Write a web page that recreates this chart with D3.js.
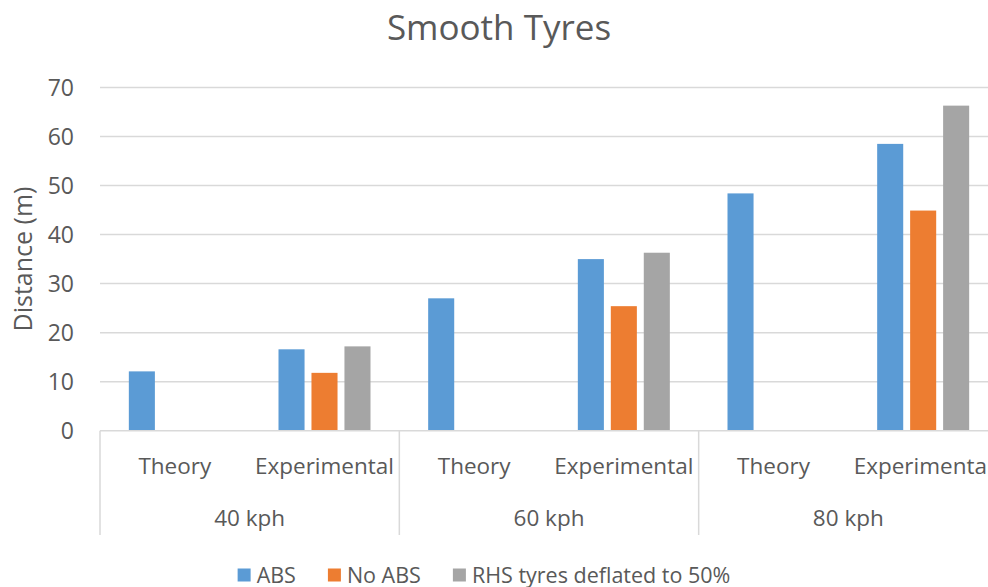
<!DOCTYPE html>
<html>
<head>
<meta charset="utf-8">
<title>Smooth Tyres</title>
<script src="https://d3js.org/d3.v7.min.js"></script>
<style>
  body { margin: 0; background: #fff; }
  text { font-family: "Open Sans", "Noto Sans", sans-serif; fill: #595959; }
</style>
</head>
<body>
<div id="chart"></div>
<script>
// data
var groups = ["40 kph", "60 kph", "80 kph"];
var tests = ["Theory", "Experimental"];
var series = ["ABS", "No ABS", "RHS tyres deflated to 50%"];
var colors = ["#5B9BD5", "#ED7D31", "#A5A5A5"];
// one value per (group, test), null = no bar
var absVals   = [12.1, 16.6, 27.0, 35.0, 48.4, 58.5];
var noAbsVals = [null, 11.8, null, 25.4, null, 44.9];
var rhsVals   = [null, 17.2, null, 36.3, null, 66.3];
var yTicks = [0, 10, 20, 30, 40, 50, 60, 70];

var W = 988, H = 587;
var plot = {left: 100, right: 998, top: 87.5, bottom: 430.7};

var svg = d3.select("#chart").append("svg")
    .attr("width", W).attr("height", H);

// categories = group x test
var cats = [];
groups.forEach(function(g) { tests.forEach(function(t) { cats.push(g + "|" + t); }); });

var x0 = d3.scaleBand().domain(cats).range([plot.left, plot.right]).padding(0);
var cw = x0.bandwidth();
var x1 = d3.scaleBand().domain(series)
    .range([cw / 2 - 46, cw / 2 + 46])
    .paddingInner(0.21).paddingOuter(0);
var y = d3.scaleLinear().domain([0, 70]).range([plot.bottom, plot.top]);

// gridlines
svg.append("g").selectAll("line").data(yTicks.slice(1)).enter().append("line")
    .attr("x1", plot.left).attr("x2", plot.right)
    .attr("y1", function(d) { return y(d); }).attr("y2", function(d) { return y(d); })
    .attr("stroke", "#D9D9D9").attr("stroke-width", 1.5);

// y tick labels
svg.append("g").selectAll("text").data(yTicks).enter().append("text")
    .attr("x", 74).attr("y", function(d) { return y(d); })
    .attr("dy", "0.36em").attr("text-anchor", "end")
    .style("font-size", "23px")
    .text(function(d) { return d; });

// bars
var allVals = [absVals, noAbsVals, rhsVals];
series.forEach(function(s, si) {
  svg.append("g").selectAll("rect")
    .data(cats.map(function(c, i) { return {cat: c, v: allVals[si][i]}; })
      .filter(function(d) { return d.v != null; }))
    .enter().append("rect")
      .attr("x", function(d) { return x0(d.cat) + x1(s); })
      .attr("width", x1.bandwidth())
      .attr("y", function(d) { return y(d.v); })
      .attr("height", function(d) { return y(0) - y(d.v); })
      .attr("fill", colors[si]);
});

// category axis: baseline and group separators
svg.append("line")
    .attr("x1", plot.left).attr("x2", plot.right)
    .attr("y1", plot.bottom).attr("y2", plot.bottom)
    .attr("stroke", "#D9D9D9").attr("stroke-width", 1.5);

var sepX = [plot.left];
groups.forEach(function(g) { sepX.push(x0(g + "|" + tests[1]) + cw); });
svg.append("g").selectAll("line").data(sepX).enter().append("line")
    .attr("x1", function(d) { return d; }).attr("x2", function(d) { return d; })
    .attr("y1", plot.bottom).attr("y2", 535)
    .attr("stroke", "#D9D9D9").attr("stroke-width", 1.5);

// inner labels
svg.append("g").selectAll("text").data(cats).enter().append("text")
    .attr("x", function(d) { return x0(d) + cw / 2; })
    .attr("y", 466).attr("dy", "0.36em").attr("text-anchor", "middle")
    .style("font-size", "22.5px")
    .text(function(d) { return d.split("|")[1]; });

// outer labels
svg.append("g").selectAll("text").data(groups).enter().append("text")
    .attr("x", function(g) { return x0(g + "|" + tests[0]) + cw; })
    .attr("y", 518).attr("dy", "0.36em").attr("text-anchor", "middle")
    .style("font-size", "22.5px")
    .text(function(g) { return g; });

// axis title
svg.append("text")
    .attr("transform", "translate(23,259) rotate(-90)")
    .attr("dy", "0.36em").attr("text-anchor", "middle")
    .style("font-size", "25px")
    .text("Distance (m)");

// title
svg.append("text")
    .attr("x", 499).attr("y", 27).attr("dy", "0.36em")
    .attr("text-anchor", "middle")
    .style("font-size", "35px")
    .text("Smooth Tyres");

// legend
var leg = svg.append("g");
var lx = 0;
series.forEach(function(s, i) {
  var it = leg.append("g").attr("transform", "translate(" + lx + ",0)");
  it.append("rect").attr("x", 0).attr("y", -6.5).attr("width", 13).attr("height", 13)
    .attr("fill", colors[i]);
  var t = it.append("text").attr("x", 19).attr("y", 0).attr("dy", "0.36em")
    .style("font-size", "21.5px").text(s);
  lx += 19 + t.node().getComputedTextLength() + 32;
});
var legW = lx - 32;
leg.attr("transform", "translate(" + (484 - legW / 2) + ",575)");
</script>
</body>
</html>
